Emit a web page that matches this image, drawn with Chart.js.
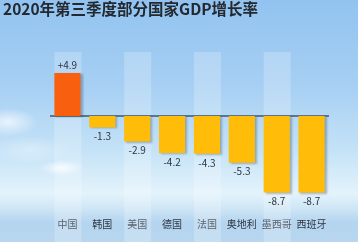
<!DOCTYPE html>
<html>
<head>
<meta charset="utf-8">
<script src="https://cdn.jsdelivr.net/npm/chart.js@4"></script>
<style>
  html, body { margin: 0; padding: 0; }
  #wrap {
    width: 358px; height: 242px; position: relative;
    background:
      radial-gradient(ellipse 22px 8px at 62px 168px, rgba(255,255,255,0.8), rgba(255,255,255,0)),
      radial-gradient(ellipse 30px 14px at 8px 122px, rgba(255,255,255,0.7), rgba(255,255,255,0)),
      radial-gradient(ellipse 40px 14px at 30px 150px, rgba(255,255,255,0.35), rgba(255,255,255,0)),
      linear-gradient(to bottom, #92c3f0 0%, #a6cff3 35%, #c4e2f7 62%, #e3f3fb 80%, #cfe6f6 86%, #b4d4ef 92%, #b8d6ef 100%);
  }
</style>
</head>
<body>
<div id="wrap"><canvas id="gdpChart" width="358" height="242"></canvas></div>
<script>
document.addEventListener("DOMContentLoaded", function () {
  const ctx = document.getElementById("gdpChart").getContext("2d");

  // Data
  const countries = ["中国", "韩国", "美国", "德国", "法国", "奥地利", "墨西哥", "西班牙"];
  const growth = [4.9, -1.3, -2.9, -4.2, -4.3, -5.3, -8.7, -8.7];
  const barColors = ["#f8600f", "#ffbd0a", "#ffbd0a", "#ffbd0a", "#ffbd0a", "#ffbd0a", "#ffbd0a", "#ffbd0a"];

  // Light columns behind every other bar, zero line and bar shadows
  const decor = {
    id: "decor",
    beforeDatasetsDraw(chart) {
      const c = chart.ctx;
      const x = chart.scales.x;
      const y = chart.scales.y;
      c.save();
      c.fillStyle = "rgba(255,255,255,0.22)";
      countries.forEach(function (name, i) {
        if (i % 2 === 0) {
          const cx = x.getPixelForValue(i);
          c.fillRect(cx - 13, 52, 27, 190);
        }
      });
      const zy = y.getPixelForValue(0);
      c.strokeStyle = "#5d7689";
      c.lineWidth = 2;
      c.beginPath();
      c.moveTo(chart.chartArea.left, zy);
      c.lineTo(chart.chartArea.right, zy);
      c.stroke();
      c.restore();
      c.shadowColor = "rgba(40,60,80,0.35)";
      c.shadowOffsetX = 2;
      c.shadowOffsetY = 1;
      c.shadowBlur = 2;
    },
    afterDatasetsDraw(chart) {
      const c = chart.ctx;
      c.shadowColor = "rgba(0,0,0,0)";
      c.shadowOffsetX = 0;
      c.shadowOffsetY = 0;
      c.shadowBlur = 0;
      // value labels
      c.save();
      c.font = "10px 'Noto Sans CJK SC', sans-serif";
      c.fillStyle = "#2d3540";
      c.textAlign = "center";
      c.textBaseline = "middle";
      chart.getDatasetMeta(0).data.forEach(function (bar, i) {
        const v = growth[i];
        const text = v > 0 ? "+" + v : String(v);
        const ty = v >= 0 ? bar.y - 8 : bar.y + 9;
        c.fillText(text, bar.x, ty);
      });
      c.restore();
    }
  };

  new Chart(ctx, {
    type: "bar",
    data: {
      labels: countries,
      datasets: [
        {
          data: growth,
          backgroundColor: barColors,
          barPercentage: 0.75,
          categoryPercentage: 1,
        },
      ],
    },
    options: {
      responsive: false,
      animation: false,
      layout: {
        padding: { left: 3, right: 29, top: 0, bottom: 0 },
      },
      plugins: {
        legend: { display: false },
        tooltip: { enabled: false },
        title: {
          display: true,
          text: "2020年第三季度部分国家GDP增长率",
          align: "start",
          color: "#23292f",
          padding: { top: 0, bottom: 35.8 },
          font: { family: "'Noto Sans CJK SC', sans-serif", size: 15.5, weight: "bold", lineHeight: 1.2 },
        },
      },
      scales: {
        x: {
          grid: { display: false, drawTicks: false },
          border: { display: false },
          afterFit(axis) { axis.height = 38; },
          ticks: {
            padding: 14,
            maxRotation: 0,
            minRotation: 0,
            autoSkip: false,
            color: "#2d3540",
            font: { family: "'Noto Sans CJK SC', sans-serif", size: 10 },
          },
        },
        y: {
          min: -10,
          max: 7,
          grid: { display: false, drawTicks: false },
          border: { display: false },
          ticks: { display: false },
          afterFit(axis) { axis.width = 47; },
        },
      },
    },
    plugins: [decor],
  });
});
</script>
</body>
</html>
